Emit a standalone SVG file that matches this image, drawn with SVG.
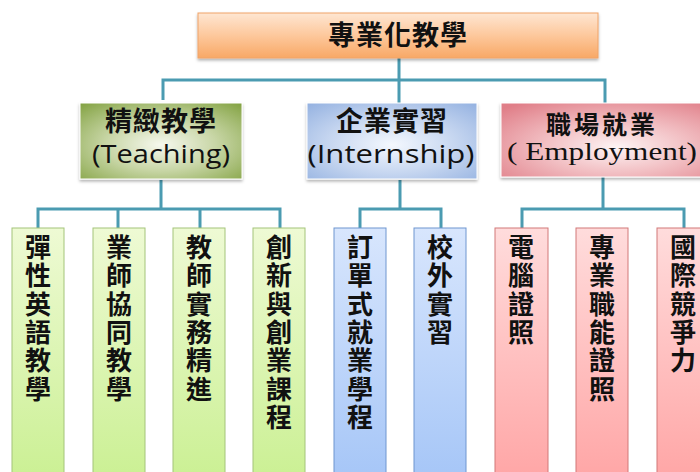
<svg xmlns="http://www.w3.org/2000/svg" width="700" height="472" viewBox="0 0 700 472">
<defs>
  <linearGradient id="gTop" x1="0" y1="0" x2="0" y2="1">
    <stop offset="0" stop-color="#fee6d2"/>
    <stop offset="0.5" stop-color="#fdc89c"/>
    <stop offset="1" stop-color="#f8a866"/>
  </linearGradient>
  <radialGradient id="gGreen" cx="0.5" cy="0.55" r="0.75">
    <stop offset="0" stop-color="#f6f8ee"/>
    <stop offset="0.45" stop-color="#c8d6a6"/>
    <stop offset="1" stop-color="#80a03e"/>
  </radialGradient>
  <radialGradient id="gBlue" cx="0.5" cy="0.55" r="0.75">
    <stop offset="0" stop-color="#f4f8fe"/>
    <stop offset="0.5" stop-color="#c6d6f0"/>
    <stop offset="1" stop-color="#92b0e0"/>
  </radialGradient>
  <radialGradient id="gPink" cx="0.55" cy="0.6" r="0.75">
    <stop offset="0" stop-color="#fdf4f4"/>
    <stop offset="0.45" stop-color="#f2c0c4"/>
    <stop offset="1" stop-color="#e07e88"/>
  </radialGradient>
  <linearGradient id="lGreen" x1="0" y1="0" x2="0" y2="1">
    <stop offset="0" stop-color="#eefad4"/>
    <stop offset="1" stop-color="#cbf094"/>
  </linearGradient>
  <linearGradient id="lBlue" x1="0" y1="0" x2="0" y2="1">
    <stop offset="0" stop-color="#d8e6fd"/>
    <stop offset="1" stop-color="#a6c6f7"/>
  </linearGradient>
  <linearGradient id="lPink" x1="0" y1="0" x2="0" y2="1">
    <stop offset="0" stop-color="#ffdcdc"/>
    <stop offset="1" stop-color="#ffa6a6"/>
  </linearGradient>
  <filter id="sh" x="-10%" y="-10%" width="120%" height="130%">
    <feDropShadow dx="0" dy="2" stdDeviation="1.5" flood-color="#000" flood-opacity="0.3"/>
  </filter>
</defs>
<style>
  .conn { fill: none; stroke: #4b9bb1; stroke-width: 3; }
  .cjk { font-family: "Noto Sans CJK TC", "Noto Sans CJK SC", sans-serif; font-weight: bold; fill: #111; text-anchor: middle; }
  .lat { font-family: "Open Sans", "Noto Sans", sans-serif; fill: #111; text-anchor: middle; }
  .ser { font-family: "Liberation Serif", "Noto Sans CJK TC", serif; fill: #111; text-anchor: middle; }
  .leaf { font-family: "Noto Sans CJK TC", "Noto Sans CJK SC", sans-serif; font-weight: bold; font-size: 26px; fill: #111; text-anchor: middle; }
  .lg { fill: url(#lGreen); stroke: #a4c47a; stroke-width: 1; }
  .lb { fill: url(#lBlue); stroke: #6f96d0; stroke-width: 1; }
  .lp { fill: url(#lPink); stroke: #d27878; stroke-width: 1; }
</style>

<g id="connectors">
  <path class="conn" d="M399 57 V80 M163 100 V80 H605 V103 M399 80 V103"/>
  <path class="conn" d="M161 180 V209 M38 228 V209 H280 V228 M118 209 V228 M200 209 V228"/>
  <path class="conn" d="M400 180 V209 M360 228 V209 H441 V228"/>
  <path class="conn" d="M603 177 V209 M522 228 V209 H684 V228"/>
</g>

<g id="root">
  <rect x="198" y="13" width="400" height="45" fill="url(#gTop)" stroke="#f0a468" stroke-width="1" filter="url(#sh)"/>
  <text class="cjk" x="398" y="45" font-size="27" letter-spacing="1">專業化教學</text>
</g>

<g id="teaching">
  <rect x="80" y="103" width="162" height="76" fill="url(#gGreen)" stroke="#ffffff" stroke-width="1" filter="url(#sh)"/>
  <text class="cjk" x="161" y="131" font-size="27" letter-spacing="1" font-weight="600">精緻教學</text>
  <text class="lat" x="161" y="163" font-size="26" font-weight="500" textLength="138" lengthAdjust="spacingAndGlyphs">(Teaching)</text>
</g>

<g id="internship">
  <rect x="307" y="103" width="170" height="76" fill="url(#gBlue)" stroke="#ffffff" stroke-width="1" filter="url(#sh)"/>
  <text class="cjk" x="392" y="131" font-size="27" letter-spacing="1" font-weight="600">企業實習</text>
  <text class="lat" x="391" y="163" font-size="26" font-weight="500" textLength="167" lengthAdjust="spacingAndGlyphs">(Internship)</text>
</g>

<g id="employment">
  <rect x="501" y="103" width="210" height="74" fill="url(#gPink)" stroke="#ffffff" stroke-width="1" filter="url(#sh)"/>
  <text class="cjk" x="602" y="134" font-size="25" font-weight="300" letter-spacing="3">職場就業</text>
  <text class="ser" x="602" y="160" font-size="25" textLength="190" lengthAdjust="spacingAndGlyphs">( Employment)</text>
</g>

<g id="leaf1">
  <rect class="lg" x="12" y="228" width="52" height="250"/>
  <text class="leaf"><tspan x="38" y="257">彈</tspan><tspan x="38" y="285.3">性</tspan><tspan x="38" y="313.6">英</tspan><tspan x="38" y="341.9">語</tspan><tspan x="38" y="370.2">教</tspan><tspan x="38" y="398.5">學</tspan></text>
</g>
<g id="leaf2">
  <rect class="lg" x="93" y="228" width="52" height="250"/>
  <text class="leaf"><tspan x="119" y="257">業</tspan><tspan x="119" y="285.3">師</tspan><tspan x="119" y="313.6">協</tspan><tspan x="119" y="341.9">同</tspan><tspan x="119" y="370.2">教</tspan><tspan x="119" y="398.5">學</tspan></text>
</g>
<g id="leaf3">
  <rect class="lg" x="173" y="228" width="52" height="250"/>
  <text class="leaf"><tspan x="199" y="257">教</tspan><tspan x="199" y="285.3">師</tspan><tspan x="199" y="313.6">實</tspan><tspan x="199" y="341.9">務</tspan><tspan x="199" y="370.2">精</tspan><tspan x="199" y="398.5">進</tspan></text>
</g>
<g id="leaf4">
  <rect class="lg" x="253" y="228" width="52" height="250"/>
  <text class="leaf"><tspan x="279" y="257">創</tspan><tspan x="279" y="285.3">新</tspan><tspan x="279" y="313.6">與</tspan><tspan x="279" y="341.9">創</tspan><tspan x="279" y="370.2">業</tspan><tspan x="279" y="398.5">課</tspan><tspan x="279" y="426.8">程</tspan></text>
</g>
<g id="leaf5">
  <rect class="lb" x="334" y="228" width="52" height="250"/>
  <text class="leaf"><tspan x="360" y="257">訂</tspan><tspan x="360" y="285.3">單</tspan><tspan x="360" y="313.6">式</tspan><tspan x="360" y="341.9">就</tspan><tspan x="360" y="370.2">業</tspan><tspan x="360" y="398.5">學</tspan><tspan x="360" y="426.8">程</tspan></text>
</g>
<g id="leaf6">
  <rect class="lb" x="414" y="228" width="52" height="250"/>
  <text class="leaf"><tspan x="440" y="257">校</tspan><tspan x="440" y="285.3">外</tspan><tspan x="440" y="313.6">實</tspan><tspan x="440" y="341.9">習</tspan></text>
</g>
<g id="leaf7">
  <rect class="lp" x="495" y="228" width="53" height="250"/>
  <text class="leaf"><tspan x="521" y="257">電</tspan><tspan x="521" y="285.3">腦</tspan><tspan x="521" y="313.6">證</tspan><tspan x="521" y="341.9">照</tspan></text>
</g>
<g id="leaf8">
  <rect class="lp" x="576" y="228" width="52" height="250"/>
  <text class="leaf"><tspan x="602" y="257">專</tspan><tspan x="602" y="285.3">業</tspan><tspan x="602" y="313.6">職</tspan><tspan x="602" y="341.9">能</tspan><tspan x="602" y="370.2">證</tspan><tspan x="602" y="398.5">照</tspan></text>
</g>
<g id="leaf9">
  <rect class="lp" x="657" y="228" width="52" height="250"/>
  <text class="leaf"><tspan x="683" y="257">國</tspan><tspan x="683" y="285.3">際</tspan><tspan x="683" y="313.6">競</tspan><tspan x="683" y="341.9">爭</tspan><tspan x="683" y="370.2">力</tspan></text>
</g>
</svg>
